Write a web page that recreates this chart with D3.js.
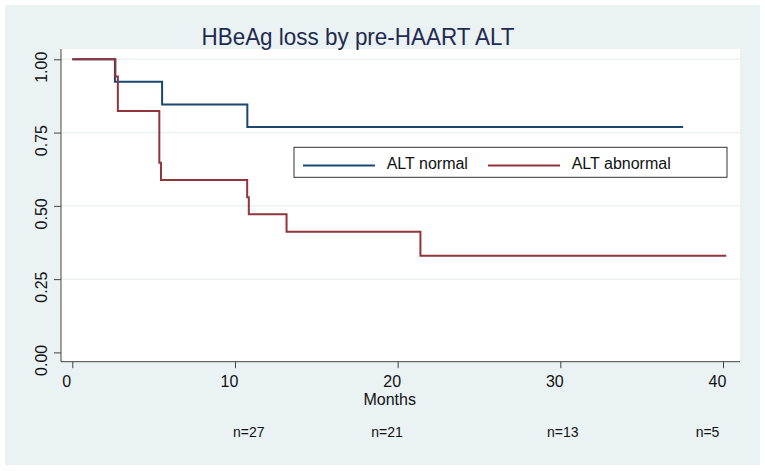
<!DOCTYPE html>
<html><head><meta charset="utf-8">
<script src="https://cdn.jsdelivr.net/npm/d3@7"></script>
<style>body{margin:0;background:#fff}svg{display:block}text{font-family:Arial,"Liberation Sans",sans-serif}</style>
</head><body>
<svg id="c" width="765" height="471"></svg>
<script>
const titleText = "HBeAg loss by pre-HAART ALT";
const xTicks = [0, 10, 20, 30, 40];
const yTicks = [0, 0.25, 0.5, 0.75, 1];
const seriesNames = ["ALT normal", "ALT abnormal"];
const normalTimes = [0, 2.62, 5.52, 10.76, 37.55];
const normalSurv  = [1, 0.923, 0.846, 0.769, 0.769];
const abnormalTimes = [0, 2.65, 2.8, 5.35, 5.45, 10.75, 10.85, 13.17, 21.4, 40.2];
const abnormalSurv  = [1, 0.941, 0.824, 0.647, 0.588, 0.529, 0.471, 0.412, 0.33, 0.33];
const atRiskLabels = ["n=27", "n=21", "n=13", "n=5"];
const atRiskX = [10.85, 19.35, 30.15, 39.05];

const colors = ["#1a476f", "#90353b"];
const svg = d3.select("#c");
const x = d3.scaleLinear().domain([0, 40]).range([72.3, 723]);
const y = d3.scaleLinear().domain([0, 1]).range([352.4, 59.3]);

svg.append("rect").attr("x",5).attr("y",5).attr("width",755).attr("height",460).attr("fill","#eaf2f3");
svg.append("rect").attr("x",61).attr("y",49).attr("width",679).attr("height",312.7).attr("fill","#fff");

// gridlines
svg.append("g").selectAll("line").data(yTicks.filter(d=>d>0)).join("line")
  .attr("x1",61).attr("x2",740).attr("y1",d=>y(d)).attr("y2",d=>y(d))
  .attr("stroke","#eaf2f3").attr("stroke-width",1.5);

// axes
const yAxis = d3.axisLeft(y).tickValues(yTicks).tickSize(7).tickFormat(d3.format(".2f"));
const gy = svg.append("g").attr("transform","translate(61,0)").call(yAxis);
gy.select(".domain").attr("d","M0,49V361.7").attr("stroke","#444");
gy.selectAll(".tick line").attr("stroke","#444");
gy.selectAll(".tick text").attr("font-size",16).attr("fill","#111")
  .attr("text-anchor","middle").attr("x",null).attr("dy",null)
  .attr("transform",d=>`translate(-14,7.5) rotate(-90)`);

const xAxis = d3.axisBottom(x).tickValues(xTicks).tickSize(6.5).tickFormat(d3.format("d"));
const gx = svg.append("g").attr("transform","translate(0,361.7)").call(xAxis);
gx.select(".domain").attr("d","M61,0H740").attr("stroke","#444");
gx.selectAll(".tick line").attr("stroke","#444");
gx.selectAll(".tick text").attr("font-size",16).attr("fill","#111")
  .attr("y",25.5).attr("dy",null).attr("x",-6);

svg.append("text").attr("x",x(20)-8).attr("y",405).attr("text-anchor","middle")
  .attr("font-size",16).attr("fill","#111").text("Months");

svg.append("g").selectAll("text").data(atRiskLabels).join("text")
  .attr("x",(d,i)=>x(atRiskX[i])).attr("y",437).attr("text-anchor","middle")
  .attr("font-size",14).attr("fill","#111").text(d=>d);

// title
svg.append("text").attr("x",358).attr("y",45).attr("text-anchor","middle")
  .attr("font-size",24).attr("fill","#1e2b4f")
  .attr("textLength",313).attr("lengthAdjust","spacingAndGlyphs").text(titleText);

// lines
const line = d3.line().x(d=>x(d[0])).y(d=>y(d[1])).curve(d3.curveStepAfter);
const sets = [d3.zip(normalTimes, normalSurv), d3.zip(abnormalTimes, abnormalSurv)];
sets.forEach((s,i)=>{
  svg.append("path").datum(s).attr("d",line).attr("fill","none")
    .attr("stroke",colors[i]).attr("stroke-width",2);
});

// legend
const lg = svg.append("g");
lg.append("rect").attr("x",294).attr("y",147.3).attr("width",433).attr("height",30)
  .attr("fill","#fff").attr("stroke","#333").attr("stroke-width",1);
const legX = [[303,375,386.7],[488,560,571.7]];
seriesNames.forEach((n,i)=>{
  lg.append("line").attr("x1",legX[i][0]).attr("x2",legX[i][1]).attr("y1",165.5).attr("y2",165.5)
    .attr("stroke",colors[i]).attr("stroke-width",2);
  lg.append("text").attr("x",legX[i][2]).attr("y",169.3).attr("font-size",16).attr("fill","#111").text(n);
});
</script>
</body></html>
